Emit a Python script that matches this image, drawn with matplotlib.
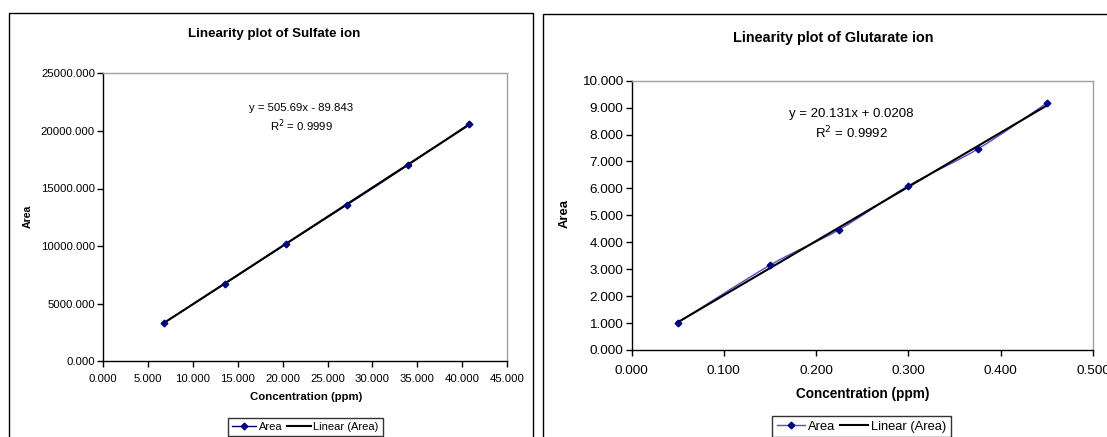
import numpy as np
import matplotlib
matplotlib.use("Agg")
import matplotlib.pyplot as plt
from matplotlib.path import Path
from matplotlib.patches import PathPatch, Rectangle
from matplotlib.lines import Line2D
from matplotlib.ticker import FormatStrFormatter

plt.rcParams['font.family'] = ['Liberation Sans', 'DejaVu Sans']

# ---------------- data ----------------
sulfate_conc = [6.8, 13.6, 20.4, 27.2, 34.0, 40.8]
sulfate_area = [3350, 6750, 10200, 13600, 17050, 20620]
sulfate_slope, sulfate_intercept = 505.69, -89.843
sulfate_eq = "y = 505.69x - 89.843"
sulfate_r2 = "R$^2$ = 0.9999"

glutarate_conc = [0.05, 0.15, 0.225, 0.30, 0.375, 0.45]
glutarate_area = [1.01, 3.15, 4.47, 6.10, 7.46, 9.17]
glutarate_slope, glutarate_intercept = 20.131, 0.0208
glutarate_eq = "y = 20.131x + 0.0208"
glutarate_r2 = "R$^2$ = 0.9992"

sulfate_xticks = [0, 5, 10, 15, 20, 25, 30, 35, 40, 45]
sulfate_yticks = [0, 5000, 10000, 15000, 20000, 25000]
glutarate_xticks = [0.0, 0.1, 0.2, 0.3, 0.4, 0.5]
glutarate_yticks = [0, 1, 2, 3, 4, 5, 6, 7, 8, 9, 10]

W, H = 1107, 437
fig = plt.figure(figsize=(W / 100, H / 100), dpi=100)


def fx(px):
    return px / W


def fy(py):
    return 1 - py / H


def smooth_path(x, y):
    x = np.asarray(x, float)
    y = np.asarray(y, float)
    P = np.column_stack([x, y])
    n = len(P)
    verts = [P[0]]
    codes = [Path.MOVETO]
    for i in range(n - 1):
        p0 = P[i - 1] if i > 0 else P[i]
        p1 = P[i]
        p2 = P[i + 1]
        p3 = P[i + 2] if i + 2 < n else P[i + 1]
        c1 = p1 + (p2 - p0) / 6.0
        c2 = p2 - (p3 - p1) / 6.0
        verts += [c1, c2, p2]
        codes += [Path.CURVE4] * 3
    return Path(verts, codes)


def make_panel(rect_px, box_px, conc, area, slope, intercept, eq, r2,
               xticks, yticks, title, title_xy, ylab_xy, xlab_xy, eq_xy, r2_xy,
               leg_xy, fs_tick, fs_title, fs_lab, fs_ylab, fs_eq, fs_leg,
               data_color, xpad):
    x0, x1, yt, yb = rect_px
    ax = fig.add_axes([fx(x0), fy(yb), fx(x1 - x0), (yb - yt) / H])
    # outer chart box
    bx0, bx1, byt = box_px
    fig.patches.append(Rectangle((fx(bx0), -0.1), fx(bx1 - bx0), fy(byt) + 0.1,
                                 transform=fig.transFigure, fill=False,
                                 edgecolor='black', lw=1.0, zorder=0))
    ax.set_xlim(xticks[0], xticks[-1])
    ax.set_ylim(yticks[0], yticks[-1])
    ax.set_xticks(xticks)
    ax.set_yticks(yticks)
    ax.xaxis.set_major_formatter(FormatStrFormatter('%.3f'))
    ax.yaxis.set_major_formatter(FormatStrFormatter('%.3f'))
    ax.tick_params(direction='out', length=4, width=1, labelsize=fs_tick,
                   pad=2, colors='black')
    ax.tick_params(axis='x', pad=xpad)
    for s in ['left', 'bottom']:
        ax.spines[s].set_color('black')
        ax.spines[s].set_linewidth(1.0)
    for s in ['top', 'right']:
        ax.spines[s].set_color('#a0a0a0')
        ax.spines[s].set_linewidth(1.0)

    # data series (smoothed line with diamond markers)
    patch = PathPatch(smooth_path(conc, area), facecolor='none',
                      edgecolor=data_color, lw=1.0, zorder=3)
    ax.add_patch(patch)
    ax.plot(conc, area, linestyle='none', marker='D', markersize=3.4,
            color='#000080', zorder=5)
    # linear trendline
    xs = np.array([min(conc), max(conc)])
    ax.plot(xs, slope * xs + intercept, color='black', lw=1.5, zorder=4)

    fig.text(fx(title_xy[0]), fy(title_xy[1]), title, ha='center', va='center',
             fontsize=fs_title, fontweight='bold')
    fig.text(fx(ylab_xy[0]), fy(ylab_xy[1]), 'Area', ha='center', va='center',
             rotation=90, fontsize=fs_ylab, fontweight='bold')
    fig.text(fx(xlab_xy[0]), fy(xlab_xy[1]), 'Concentration (ppm)', ha='center',
             va='center', fontsize=fs_lab, fontweight='bold')
    fig.text(fx(eq_xy[0]), fy(eq_xy[1]), eq, ha='center', va='center',
             fontsize=fs_eq)
    fig.text(fx(r2_xy[0]), fy(r2_xy[1]), r2, ha='center', va='center',
             fontsize=fs_eq)

    handles = [Line2D([], [], color=data_color, lw=1.0, marker='D',
                      markersize=3.4, markerfacecolor='#000080',
                      markeredgecolor='#000080'),
               Line2D([], [], color='black', lw=1.5)]
    leg = fig.legend(handles, ['Area', 'Linear (Area)'], loc='upper left',
                     bbox_to_anchor=(fx(leg_xy[0]), fy(leg_xy[1])),
                     bbox_transform=fig.transFigure, ncol=2, fontsize=fs_leg,
                     frameon=True, fancybox=False, borderpad=0.35,
                     handlelength=2.2, handletextpad=0.2, columnspacing=0.4,
                     borderaxespad=0)
    leg.get_frame().set_edgecolor('black')
    leg.get_frame().set_linewidth(1.0)
    return ax


make_panel((103.3, 507, 73.3, 361.3), (9, 533, 12.7),
           sulfate_conc, sulfate_area, sulfate_slope, sulfate_intercept,
           sulfate_eq, sulfate_r2, sulfate_xticks, sulfate_yticks,
           'Linearity plot of Sulfate ion', (274, 34.3), (27.7, 216.7),
           (306, 397), (301, 108.3), (301, 125.3), (228, 418),
           fs_tick=8.2, fs_title=9.6, fs_lab=8.2, fs_ylab=7.6, fs_eq=8.2,
           fs_leg=8.0, data_color='#000080', xpad=5)

make_panel((631.5, 1093, 80.7, 350), (543, 1200, 14),
           glutarate_conc, glutarate_area, glutarate_slope, glutarate_intercept,
           glutarate_eq, glutarate_r2, glutarate_xticks, glutarate_yticks,
           'Linearity plot of Glutarate ion', (833, 37.7), (564.6, 213),
           (863, 394), (851.6, 114), (851.6, 133.3), (772, 416),
           fs_tick=9.7, fs_title=10.4, fs_lab=9.8, fs_ylab=9.4, fs_eq=9.5,
           fs_leg=9.3, data_color='#5050c8', xpad=6.5)

fig.savefig('out.png', dpi=100)
